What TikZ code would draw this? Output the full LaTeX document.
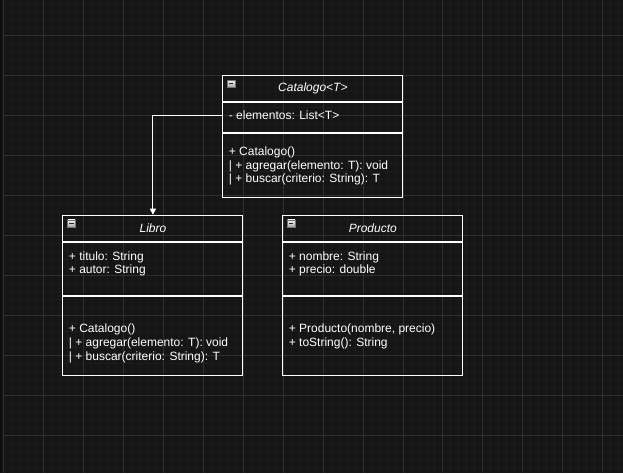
\documentclass[tikz,border=0pt]{standalone}
\usepackage{fontspec}
\setmainfont{Liberation Sans}
\usetikzlibrary{arrows.meta, positioning}

\definecolor{canvas}{HTML}{151515}
\definecolor{minorgrid}{HTML}{1C1C1C}
\definecolor{majorgrid}{HTML}{2F2F2F}
\definecolor{edge}{HTML}{0E0E0E}

\begin{document}
\begin{tikzpicture}[
        x=1pt, y=-1pt,
        line width=1pt,
        font=\fontsize{12}{13.6}\selectfont,
        text=white,
        head/.style = {
            draw=white,
            rectangle,
            minimum width=180pt,
            minimum height=26pt,
            inner sep=0pt,
            font=\fontsize{12}{13.6}\selectfont\itshape
        },
        compartment/.style = {
            draw=white,
            rectangle,
            minimum width=180pt,
            inner sep=0pt
        },
        members/.style = {
            anchor=north west,
            inner sep=0pt,
            align=left
        },
        collapse/.style = {
            draw=black!55,
            line width=0.6pt,
            minimum size=7.4pt,
            inner sep=0pt,
            top color=white!90!gray,
            bottom color=gray!75,
            path picture={\draw[line width=1.3pt, black!85]
                ([xshift=1.6pt]path picture bounding box.west) --
                ([xshift=-1.6pt]path picture bounding box.east);}
        }
    ]

    % canvas and grid
    \fill[canvas] (0,0) rectangle (623,473);
    \fill[edge] (0,0) rectangle (2.5,473);
    \foreach \gx in {11,19,...,619} \draw[minorgrid, line width=0.6pt] (\gx,0) -- (\gx,473);
    \foreach \gy in {3,11,...,467} \draw[minorgrid, line width=0.6pt] (3,\gy) -- (623,\gy);
    \foreach \gx in {3,43,...,603} \draw[majorgrid, line width=0.6pt] (\gx,0) -- (\gx,473);
    \foreach \gy in {35,75,...,435} \draw[majorgrid, line width=0.6pt] (3,\gy) -- (623,\gy);

    % Catalogo<T>
    \node[head] (cat) at (313,88) {Catalogo<T>};
    \node[compartment, minimum height=30pt, below=0pt of cat] (catattr) {};
    \node[compartment, minimum height=64pt, below=0pt of catattr] (catops) {};
    \node[collapse, below right=5pt and 5pt of cat.north west] (catbtn) {};
    \node[members, below right=8.6pt and 6pt of catattr.north west] (catattrtxt) {- elementos: List<T>};
    \node[members, below right=13.6pt and 6pt of catops.north west] (catopstxt)
        {+ Catalogo()\\| + agregar(elemento: T): void\\| + buscar(criterio: String): T};

    % Libro
    \node[head] (libro) at (153,228) {Libro};
    \node[compartment, minimum height=53pt, below=0pt of libro] (libroattr) {};
    \node[compartment, minimum height=79pt, below=0pt of libroattr] (libroops) {};
    \node[collapse, below right=5pt and 5pt of libro.north west] (librobtn) {};
    \node[members, below right=9.3pt and 6pt of libroattr.north west] (libroattrtxt)
        {+ titulo: String\\+ autor: String};
    \node[members, below right=28pt and 6pt of libroops.north west] (libroopstxt)
        {+ Catalogo()\\| + agregar(elemento: T): void\\| + buscar(criterio: String): T};

    % Producto
    \node[head] (prod) at (373,228) {Producto};
    \node[compartment, minimum height=53pt, below=0pt of prod] (prodattr) {};
    \node[compartment, minimum height=79pt, below=0pt of prodattr] (prodops) {};
    \node[collapse, below right=5pt and 5pt of prod.north west] (prodbtn) {};
    \node[members, below right=9.3pt and 6pt of prodattr.north west] (prodattrtxt)
        {+ nombre: String\\+ precio: double};
    \node[members, below right=28pt and 6pt of prodops.north west] (prodopstxt)
        {+ Producto(nombre, precio)\\+ toString(): String};

    \draw[white, -{Triangle[width=6pt, length=6pt]}] ([yshift=2pt]catattr.west) -| (libro.north);

\end{tikzpicture}
\end{document}
